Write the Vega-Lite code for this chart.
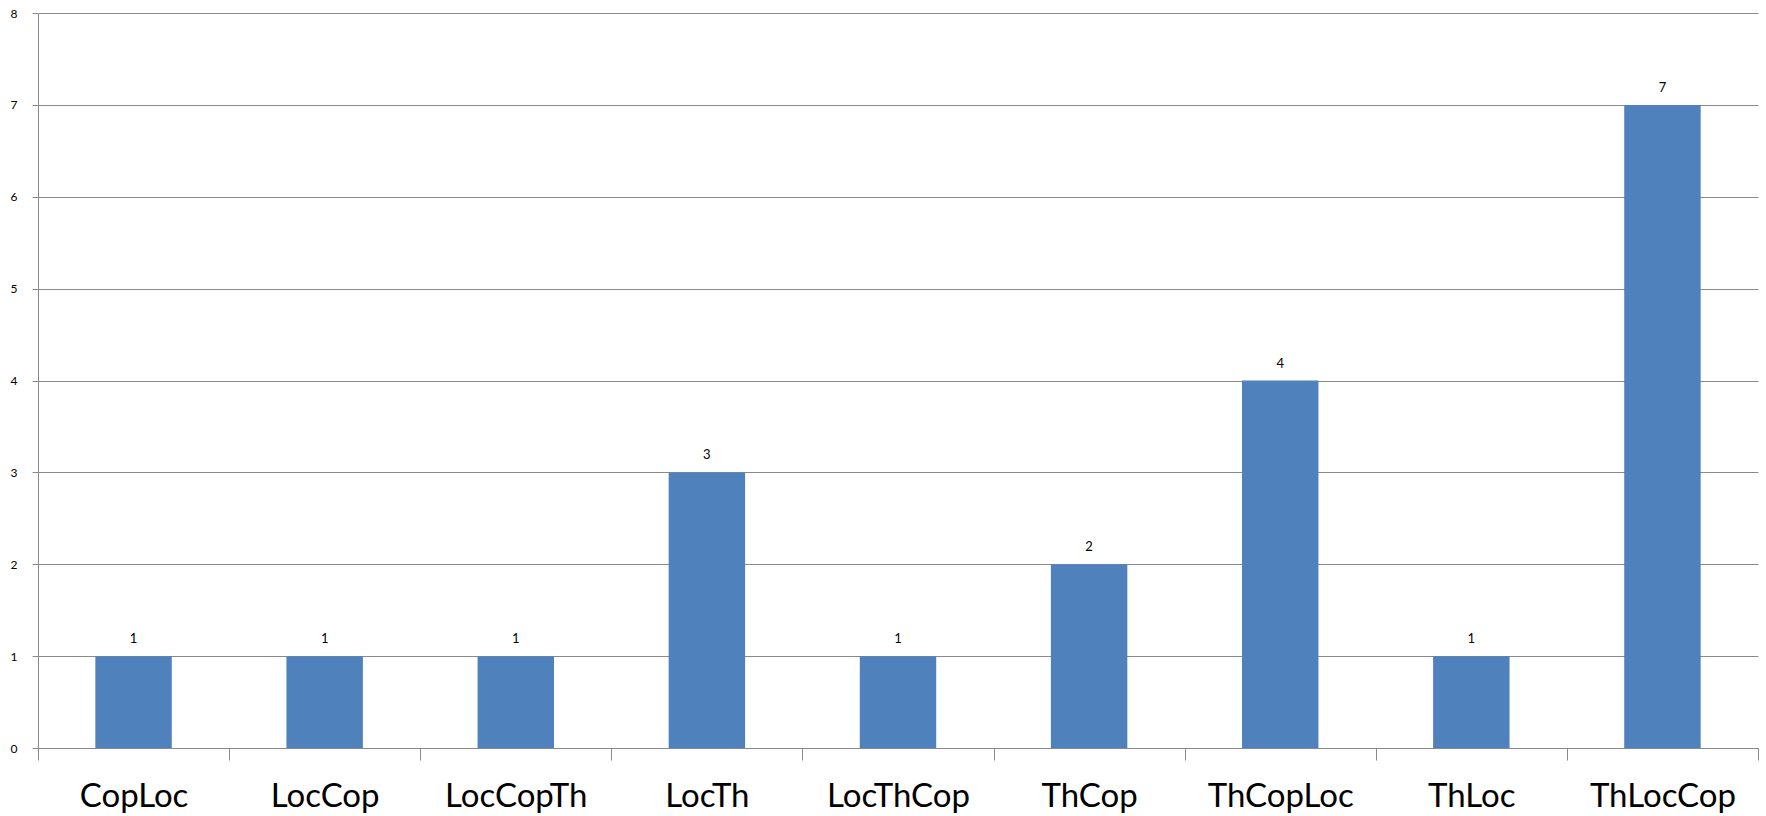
{
  "$schema": "https://vega.github.io/schema/vega-lite/v6.json",
  "autosize": "none",
  "width": 1720,
  "height": 735,
  "padding": {"left": 38, "top": 13, "right": 8, "bottom": 68},
  "background": "white",
  "config": {
    "font": "Lato",
    "view": {"stroke": null}
  },
  "data": {
    "values": [
      {"combo": "CopLoc", "count": 1},
      {"combo": "LocCop", "count": 1},
      {"combo": "LocCopTh", "count": 1},
      {"combo": "LocTh", "count": 3},
      {"combo": "LocThCop", "count": 1},
      {"combo": "ThCop", "count": 2},
      {"combo": "ThCopLoc", "count": 4},
      {"combo": "ThLoc", "count": 1},
      {"combo": "ThLocCop", "count": 7}
    ]
  },
  "encoding": {
    "x": {
      "field": "combo",
      "type": "nominal",
      "sort": null,
      "scale": {"paddingInner": 0, "paddingOuter": 0},
      "axis": {
        "title": null,
        "labelAngle": 0,
        "labelFont": "Lato",
        "labelFontSize": 33,
        "labelColor": "#000000",
        "labelPadding": 20,
        "tickBand": "extent",
        "tickSize": 12,
        "tickColor": "#8a8a8a",
        "domainColor": "#8a8a8a",
        "grid": false
      }
    },
    "y": {
      "field": "count",
      "type": "quantitative",
      "scale": {"domain": [0, 8], "nice": false},
      "axis": {
        "title": null,
        "values": [0, 1, 2, 3, 4, 5, 6, 7, 8],
        "labelFont": "Lato",
        "labelFontSize": 12,
        "labelColor": "#000000",
        "labelPadding": 15,
        "tickSize": 6,
        "tickColor": "#8a8a8a",
        "domainColor": "#8a8a8a",
        "gridColor": "#8a8a8a",
        "gridOpacity": 1
      }
    }
  },
  "layer": [
    {
      "mark": {"type": "bar", "color": "#4F81BD", "width": {"band": 0.4}}
    },
    {
      "mark": {
        "type": "text",
        "baseline": "alphabetic",
        "dy": -13,
        "fontSize": 13,
        "color": "#000000"
      },
      "encoding": {"text": {"field": "count", "type": "quantitative"}}
    }
  ]
}
